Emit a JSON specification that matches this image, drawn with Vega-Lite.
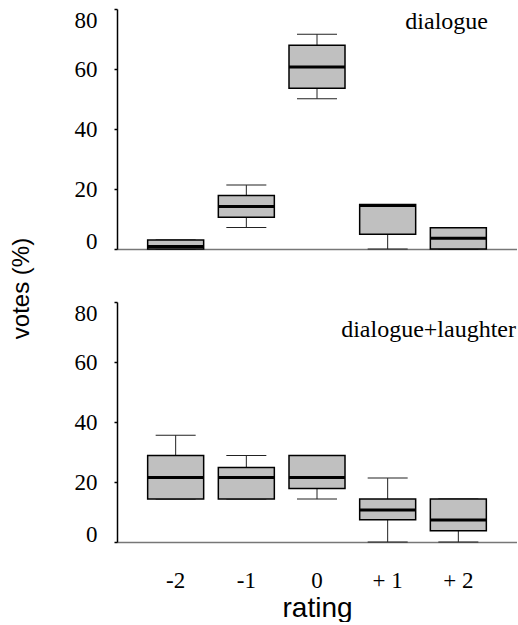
{
  "$schema": "https://vega.github.io/schema/vega-lite/v6.json",
  "autosize": {"type": "pad"},
  "padding": {"left": 9, "top": 8, "right": 0, "bottom": 0},
  "background": "white",
  "config": {
    "view": {"stroke": null},
    "axis": {"grid": false}
  },
  "datasets": {
    "boxes": [
      {"panel": "dialogue", "rating": "-2", "min": 0, "q1": 0, "median": 0.8, "q3": 3, "max": 3},
      {"panel": "dialogue", "rating": "-1", "min": 7.2, "q1": 10.6, "median": 14.2, "q3": 17.8, "max": 21.3},
      {"panel": "dialogue", "rating": "0", "min": 50.1, "q1": 53.6, "median": 60.7, "q3": 67.9, "max": 71.6},
      {"panel": "dialogue", "rating": "+ 1", "min": 0, "q1": 4.9, "median": 14.5, "q3": 14.8, "max": 14.8},
      {"panel": "dialogue", "rating": "+ 2", "min": 0, "q1": 0, "median": 3.6, "q3": 7.1, "max": 7.1},
      {"panel": "dialogue+laughter", "rating": "-2", "min": 14.3, "q1": 14.3, "median": 21.5, "q3": 28.8, "max": 35.6},
      {"panel": "dialogue+laughter", "rating": "-1", "min": 14.3, "q1": 14.3, "median": 21.5, "q3": 24.8, "max": 28.8},
      {"panel": "dialogue+laughter", "rating": "0", "min": 14.3, "q1": 17.8, "median": 21.5, "q3": 28.8, "max": 28.8},
      {"panel": "dialogue+laughter", "rating": "+ 1", "min": 0, "q1": 7.4, "median": 10.7, "q3": 14.3, "max": 21.3},
      {"panel": "dialogue+laughter", "rating": "+ 2", "min": 0, "q1": 3.75, "median": 7.3, "q3": 14.3, "max": 14.3}
    ]
  },
  "vconcat": [
    {
      "width": 400,
      "height": 240,
      "title": {"text": "dialogue", "orient": "top", "anchor": "end", "offset": -45, "baseline": "alphabetic", "dx": -29, "font": "Liberation Serif", "fontSize": 24, "fontWeight": "normal", "color": "black"},
      "data": {"name": "boxes"},
      "transform": [{"filter": "datum.panel === 'dialogue'"}],
      "encoding": {
        "x": {
          "field": "rating", "type": "nominal",
          "sort": ["-2", "-1", "0", "+ 1", "+ 2"],
          "scale": {"paddingInner": 0.2, "paddingOuter": 0.43},
          "axis": {"title": null, "labels": false, "ticks": false, "domainColor": "#777777", "domainWidth": 1.5}
        }
      },
      "layer": [
        {"mark": {"type": "rule", "color": "#222222", "strokeWidth": 1}, "encoding": {"y": {"field": "min", "type": "quantitative"}, "y2": {"field": "q1"}}},
        {"mark": {"type": "rule", "color": "#222222", "strokeWidth": 1}, "encoding": {"y": {"field": "q3", "type": "quantitative"}, "y2": {"field": "max"}}},
        {"mark": {"type": "tick", "color": "#222222", "opacity": 1, "thickness": 1, "size": 40}, "encoding": {"y": {"field": "min", "type": "quantitative"}}},
        {"mark": {"type": "tick", "color": "#222222", "opacity": 1, "thickness": 1, "size": 40}, "encoding": {"y": {"field": "max", "type": "quantitative"}}},
        {
          "mark": {"type": "bar", "size": 56, "fill": "#c0c0c0", "stroke": "black", "strokeWidth": 1.5, "opacity": 1},
          "encoding": {
            "y": {
              "field": "q1", "type": "quantitative",
              "scale": {"domain": [0, 80], "nice": false, "zero": true},
              "axis": {
                "values": [0, 20, 40, 60, 80], "title": "votes (%)",
                "titleFont": "Liberation Sans", "titleFontSize": 24, "titleFontWeight": "normal", "titleColor": "black",
                "titleX": -96, "titleY": 279, "titleAngle": 270, "titleAlign": "center", "titleBaseline": "middle",
                "labelFont": "Liberation Serif", "labelFontSize": 23, "labelColor": "black",
                "labelOffset": {"condition": [{"test": "datum.value == 0", "value": -8}, {"test": "datum.value == 80", "value": 11}], "value": 0},
                "labelPadding": 17, "tickSize": 3, "tickColor": "black", "tickWidth": 1.5,
                "domainColor": "black", "domainWidth": 1.5
              }
            },
            "y2": {"field": "q3"}
          }
        },
        {"mark": {"type": "tick", "color": "black", "opacity": 1, "thickness": 3, "size": 56}, "encoding": {"y": {"field": "median", "type": "quantitative"}}}
      ]
    },
    {
      "width": 400,
      "height": 240,
      "title": {"text": "dialogue+laughter", "orient": "top", "anchor": "end", "offset": -60, "baseline": "alphabetic", "dx": -1, "font": "Liberation Serif", "fontSize": 24, "fontWeight": "normal", "color": "black"},
      "data": {"name": "boxes"},
      "transform": [{"filter": "datum.panel === 'dialogue+laughter'"}],
      "encoding": {
        "x": {
          "field": "rating", "type": "nominal",
          "sort": ["-2", "-1", "0", "+ 1", "+ 2"],
          "scale": {"paddingInner": 0.2, "paddingOuter": 0.43},
          "axis": {
            "title": "rating", "titleFont": "Liberation Sans", "titleFontSize": 28, "titleFontWeight": "normal", "titleColor": "black", "titlePadding": 2,
            "labelFont": "Liberation Serif", "labelFontSize": 23, "labelColor": "black", "labelAngle": 0, "labelPadding": 27,
            "ticks": false, "domainColor": "#777777", "domainWidth": 1.5
          }
        }
      },
      "layer": [
        {"mark": {"type": "rule", "color": "#222222", "strokeWidth": 1}, "encoding": {"y": {"field": "min", "type": "quantitative"}, "y2": {"field": "q1"}}},
        {"mark": {"type": "rule", "color": "#222222", "strokeWidth": 1}, "encoding": {"y": {"field": "q3", "type": "quantitative"}, "y2": {"field": "max"}}},
        {"mark": {"type": "tick", "color": "#222222", "opacity": 1, "thickness": 1, "size": 40}, "encoding": {"y": {"field": "min", "type": "quantitative"}}},
        {"mark": {"type": "tick", "color": "#222222", "opacity": 1, "thickness": 1, "size": 40}, "encoding": {"y": {"field": "max", "type": "quantitative"}}},
        {
          "mark": {"type": "bar", "size": 56, "fill": "#c0c0c0", "stroke": "black", "strokeWidth": 1.5, "opacity": 1},
          "encoding": {
            "y": {
              "field": "q1", "type": "quantitative",
              "scale": {"domain": [0, 80], "nice": false, "zero": true},
              "axis": {
                "values": [0, 20, 40, 60, 80], "title": null,
                "labelFont": "Liberation Serif", "labelFontSize": 23, "labelColor": "black",
                "labelOffset": {"condition": [{"test": "datum.value == 0", "value": -8}, {"test": "datum.value == 80", "value": 11}], "value": 0},
                "labelPadding": 17, "tickSize": 3, "tickColor": "black", "tickWidth": 1.5,
                "domainColor": "black", "domainWidth": 1.5
              }
            },
            "y2": {"field": "q3"}
          }
        },
        {"mark": {"type": "tick", "color": "black", "opacity": 1, "thickness": 3, "size": 56}, "encoding": {"y": {"field": "median", "type": "quantitative"}}}
      ]
    }
  ],
  "spacing": 53,
  "bounds": "flush"
}
